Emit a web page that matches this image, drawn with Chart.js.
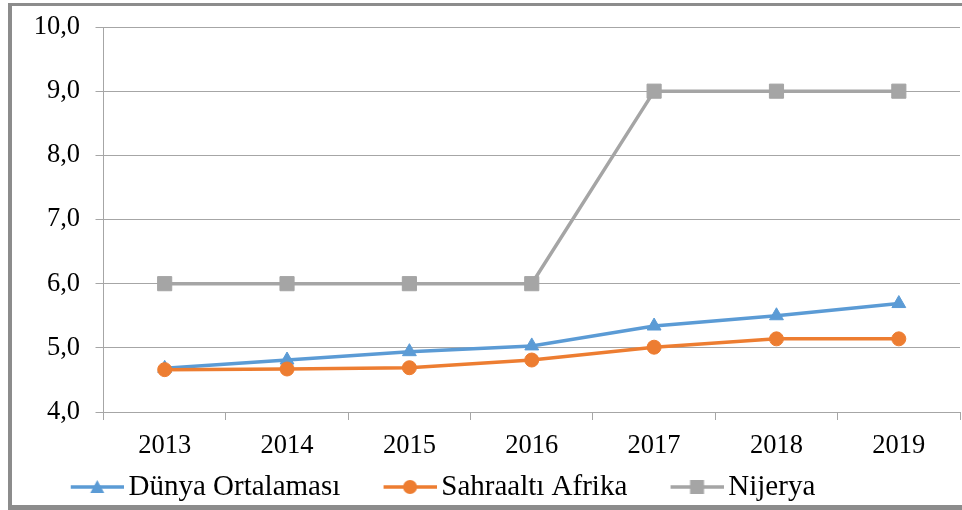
<!DOCTYPE html>
<html>
<head>
<meta charset="utf-8">
<script src="https://cdn.jsdelivr.net/npm/chart.js@4"></script>
<style>
  html, body { margin: 0; padding: 0; background: #fff; }
  #wrap { position: relative; width: 962px; height: 510px; overflow: hidden; }
  #c { position: absolute; left: 0; top: 0; }
  .b { position: absolute; background: #8c8c8c; }
</style>
</head>
<body>
<div id="wrap">
  <canvas id="c" width="962" height="510"></canvas>
  <div class="b" style="left:8px;top:3px;width:4px;height:507px;"></div>
  <div class="b" style="left:8px;top:3px;width:954px;height:3px;"></div>
  <div class="b" style="left:8px;top:505px;width:954px;height:5px;"></div>
</div>
<script>
const categories = ['2013', '2014', '2015', '2016', '2017', '2018', '2019'];
const seriesNames = ['Dünya Ortalaması', 'Sahraaltı Afrika', 'Nijerya'];
const dunyaOrtalamasi = [4.68, 4.81, 4.94, 5.03, 5.34, 5.50, 5.69];
const sahraaltiAfrika = [4.66, 4.67, 4.69, 4.81, 5.01, 5.14, 5.14];
const nijerya = [6.0, 6.0, 6.0, 6.0, 9.0, 9.0, 9.0];
const yTickLabels = ['4,0', '5,0', '6,0', '7,0', '8,0', '9,0', '10,0'];

const colors = ['#5B9BD5', '#ED7D31', '#A5A5A5'];
const markers = ['triangle', 'circle', 'rect'];
const FONT = '"Liberation Serif", "Times New Roman", serif';

function makeIcon(color, marker) {
  const cv = document.createElement('canvas');
  cv.width = 96; cv.height = 18;
  const g = cv.getContext('2d');
  const x0 = 43, x1 = 96, cx = 69.5, cy = 9;
  g.strokeStyle = color; g.lineWidth = 3.5;
  g.beginPath(); g.moveTo(x0, cy); g.lineTo(x1, cy); g.stroke();
  g.fillStyle = color;
  g.beginPath();
  if (marker === 'triangle') {
    g.moveTo(cx, cy - 7); g.lineTo(cx + 7, cy + 6); g.lineTo(cx - 7, cy + 6); g.closePath();
  } else if (marker === 'circle') {
    g.arc(cx, cy, 7, 0, Math.PI * 2);
  } else {
    g.rect(cx - 7, cy - 7, 14, 14);
  }
  g.fill();
  return cv;
}
const legendIcons = colors.map((c, i) => makeIcon(c, markers[i]));

const dataArrays = [dunyaOrtalamasi, sahraaltiAfrika, nijerya];
const radii = [8, 7, 10];
const datasets = dataArrays.map((d, i) => ({
  label: seriesNames[i],
  data: d,
  borderColor: colors[i],
  backgroundColor: colors[i],
  pointBackgroundColor: colors[i],
  pointBorderColor: colors[i],
  pointBorderWidth: 1,
  pointStyle: markers[i],
  pointRadius: radii[i],
  pointHoverRadius: radii[i],
  borderWidth: 3.5,
  tension: 0,
  fill: false,
  clip: false,
  order: 3 - i
}));

new Chart(document.getElementById('c'), {
  type: 'line',
  data: { labels: categories, datasets },
  options: {
    responsive: false,
    animation: false,
    events: [],
    layout: { autoPadding: false, padding: { top: 27, right: 2, left: 27.5, bottom: -1.5 } },
    plugins: {
      tooltip: { enabled: false },
      legend: {
        position: 'bottom',
        align: 'start',
        labels: {
          usePointStyle: true,
          pointStyleWidth: 76.5,
          padding: 10,
          color: '#000',
          font: { family: FONT, size: 29 },
          sort: (a, b) => a.datasetIndex - b.datasetIndex,
          generateLabels(chart) {
            const items = Chart.defaults.plugins.legend.labels.generateLabels(chart);
            items.forEach(it => { it.pointStyle = legendIcons[it.datasetIndex]; });
            return items;
          }
        }
      }
    },
    scales: {
      x: {
        offset: true,
        afterFit(s) { s.height = 50.5; s.paddingLeft = 0; s.paddingRight = 0; },
        grid: {
          drawOnChartArea: false,
          drawTicks: true,
          tickLength: 8,
          color: '#a6a6a6',
          offset: true
        },
        border: { display: true, color: '#a6a6a6', width: 1 },
        ticks: {
          color: '#000',
          font: { family: FONT, size: 26.5 },
          padding: 10,
          maxRotation: 0,
          autoSkip: false
        }
      },
      y: {
        min: 4,
        max: 10,
        afterFit(s) { s.width = 76; s.paddingTop = 10; s.paddingBottom = 10; },
        grid: {
          drawOnChartArea: true,
          drawTicks: true,
          tickLength: 8,
          color: '#a6a6a6',
          lineWidth: 1
        },
        border: { display: true, color: '#a6a6a6', width: 1 },
        ticks: {
          stepSize: 1,
          color: '#000',
          font: { family: FONT, size: 26.5 },
          padding: 15.5,
          callback: (v) => yTickLabels[Math.round(v - 4)]
        }
      }
    }
  }
});
</script>
</body>
</html>
